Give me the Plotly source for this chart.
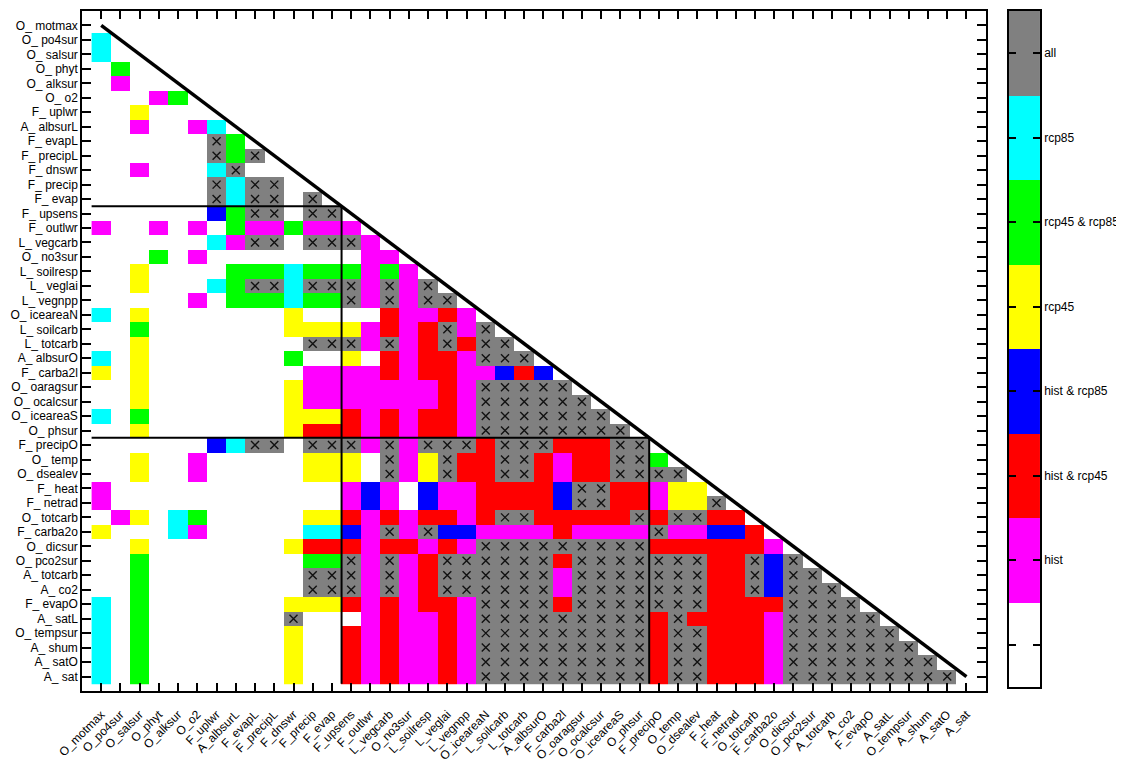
import plotly.graph_objects as go

names = ["O_motmax", "O_po4sur", "O_salsur", "O_phyt", "O_alksur", "O_o2", "F_uplwr",
         "A_albsurL", "F_evapL", "F_precipL", "F_dnswr", "F_precip", "F_evap", "F_upsens",
         "F_outlwr", "L_vegcarb", "O_no3sur", "L_soilresp", "L_veglai", "L_vegnpp",
         "O_iceareaN", "L_soilcarb", "L_totcarb", "A_albsurO", "F_carba2l", "O_oaragsur",
         "O_ocalcsur", "O_iceareaS", "O_phsur", "F_precipO", "O_temp", "O_dsealev", "F_heat",
         "F_netrad", "O_totcarb", "F_carba2o", "O_dicsur", "O_pco2sur", "A_totcarb", "A_co2",
         "F_evapO", "A_satL", "O_tempsur", "A_shum", "A_satO", "A_sat"]
y_labels = [n.replace("_", "_ ") for n in names]

categories = ["", "hist", "hist & rcp45", "hist & rcp85", "rcp45", "rcp45 & rcp85", "rcp85", "all"]
category_colors = ["#ffffff", "#ff00ff", "#ff0000", "#0000ff", "#ffff00", "#00ff00", "#00ffff", "#808080"]
code_letters = ".MRBYGCA"   # index = category

# lower-triangle rows: character j of row i is the category of cell (row i, column j)
rows = [
    "",
    "C",
    "C.",
    ".G.",
    ".M..",
    "...MG",
    "..Y...",
    "..M..MC",
    "......AG",
    "......AGA",
    "..M...CA..",
    "......ACAA.",
    "......ACAA.A",
    "......BGAA.AA",
    "M..M.M.GMMGMMM",
    "......CMAA.AAAM",
    "...G.M........MM",
    "..Y....GGGCGGGMGM",
    "..Y...CGAACAAAMAMA",
    ".....M.GGGCGGAMAMAA",
    "C.Y.......Y....RMMRM",
    "..G.......YYYYMRMRAMA",
    "..Y........AAAMAMRARAA",
    "C.Y.......G..Y.RMRRMAAA",
    "Y.Y........MMMMRMRRMMBRB",
    "..Y.......YMMMMMMMRMAAAAA",
    "..Y.......YMMMMMMMRMAAAAAA",
    "C.G.......YYYRMRMRRMAAAAAAA",
    "..Y.......YRRRMRMRRMAAAAAAAA",
    "......BCAA.AAAMAMAAARAAARRRAA",
    "..Y..M.....YYY.AMYARRAARMRRAAG",
    "..Y..M.....YYY.AMYARRAARMRRAAAA",
    "M............MBM.BMMRRRRBAARRMYY",
    "M............MBM.BMMRRRRBAARRMYYA",
    ".MY.CG.....YYRMRMRRMRAARRRRRARAARR",
    "Y...CM.....CCBMAMABBMMMMRMMMMAMMBBR",
    "..Y.......YRRRMRRMRMAAAAAAAAARRRRRRM",
    "..G........GGAMAMRAAAAAARAAAAAAARRABA",
    "..G........AAAMAMRAAAAAAMAAAAAAARRABAA",
    "..G........AAAMAMRAAAAAAMAAAAAAARRABAAA",
    "C.G.......YYYRMRMRRMAAAARAAAAAAARRRRAAAA",
    "C.G.......A...MRMMRMAAAAAAAAARARRRRMAAAAA",
    "C.G.......Y..RMRMMRMAAAAAAAAARAARRRMAAAAAA",
    "C.G.......Y..RMRMMRMAAAAAAAAARAARRRMAAAAAAA",
    "C.G.......Y..RMRMMRMAAAAAAAAARAARRRMAAAAAAAA",
    "C.G.......Y..RMRMMRMAAAAAAAAARAARRRMAAAAAAAAA",
]
cross_letter = "A"        # cells of category "all" carry a cross
block_starts = [13, 29]   # first variable of the 2nd and 3rd groups

n = len(names)
ncat = len(categories)

z = []
for i in range(n):
    r = []
    for j in range(n):
        r.append(code_letters.index(rows[i][j]) if j < i else None)
    z.append(r)

cross_x, cross_y = [], []
for i in range(n):
    for j, ch in enumerate(rows[i]):
        if ch == cross_letter:
            cross_x.append(j)
            cross_y.append(i)

colorscale = []
for k, c in enumerate(category_colors):
    colorscale.append([k / ncat, c])
    colorscale.append([(k + 1) / ncat, c])

fig = go.Figure()
fig.add_trace(go.Heatmap(
    x=list(range(n)), y=list(range(n)), z=z,
    colorscale=colorscale, zmin=-0.5, zmax=ncat - 0.5,
    showscale=False, hoverongaps=False, xaxis="x", yaxis="y"))
fig.add_trace(go.Scatter(
    x=cross_x, y=cross_y, mode="markers",
    marker=dict(symbol="x-thin", size=8, line=dict(width=1.4, color="#111111")),
    hoverinfo="skip", xaxis="x", yaxis="y"))
fig.add_trace(go.Heatmap(
    x=[0], y=list(range(ncat)), z=[[k] for k in range(ncat)],
    colorscale=colorscale, zmin=-0.5, zmax=ncat - 0.5,
    showscale=False, xaxis="x2", yaxis="y2"))

shapes = [dict(type="line", xref="x", yref="y", x0=0, y0=0, x1=n - 1, y1=n - 1,
               line=dict(color="black", width=3.5))]
for b in block_starts:
    e = b - 0.5
    shapes.append(dict(type="line", xref="x", yref="y", x0=-0.5, y0=e, x1=e, y1=e,
                       line=dict(color="black", width=2)))
    shapes.append(dict(type="line", xref="x", yref="y", x0=e, y0=e, x1=e, y1=n - 0.5,
                       line=dict(color="black", width=2)))

axis_common = dict(showgrid=False, zeroline=False, showline=True, linecolor="black",
                   linewidth=1.5, ticks="inside", tickcolor="black", tickwidth=1.5,
                   mirror="ticks", automargin=False)

fig.update_layout(
    width=1116, height=757,
    margin=dict(l=74, r=84, t=1, b=74),
    plot_bgcolor="white", paper_bgcolor="white",
    showlegend=False,
    font=dict(family="Liberation Sans, Arial, sans-serif", size=12, color="black"),
    shapes=shapes,
    xaxis=dict(domain=[0, 0.9433], range=[-1, n], tickmode="array",
               tickvals=list(range(n)), ticktext=names, tickangle=-45, ticklen=8,
               ticklabelstandoff=10, **axis_common),
    yaxis=dict(domain=[0, 1], range=[n, -1], tickmode="array",
               tickvals=list(range(n)), ticktext=y_labels, ticklen=9, **axis_common),
    xaxis2=dict(domain=[0.9676, 1], anchor="y2", range=[-0.5, 0.5], showticklabels=False,
                showgrid=False, zeroline=False, showline=True, linecolor="black",
                linewidth=1.5, mirror=True, ticks=""),
    yaxis2=dict(domain=[0.006, 1], anchor="x2", side="right", range=[-0.5, ncat - 0.5],
                tickmode="array", tickvals=list(range(ncat)), ticktext=categories,
                ticklen=7, **axis_common),
)

fig.write_html("out.html")
